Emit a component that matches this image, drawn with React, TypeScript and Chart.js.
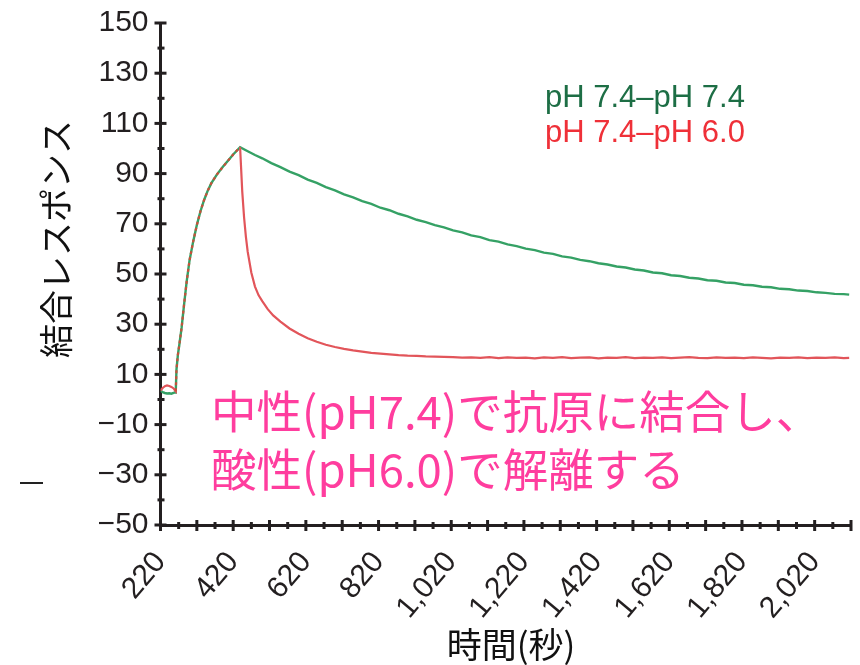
import React, { useEffect, useRef } from 'react';
import { Chart, registerables } from 'chart.js';

Chart.register(...registerables);

// [time (s), response]
const greenBaseline: number[][] = [
  [220, 3.6], [226, 2.9], [232, 2.6], [238, 2.4], [244, 2.5], [250, 2.3], [256, 2.6], [260, 2.8],
];
const redBaseline: number[][] = [
  [220, 3.6], [226, 4.6], [232, 5.3], [238, 5.6], [244, 5.4], [250, 5.0], [256, 4.4], [260, 3.6],
];
// association phase (pH 7.4) shared by both runs
const association: number[][] = [
  [262, 3.3], [264, 12], [268, 18], [272, 22], [278, 28.5], [285, 38], [292, 47], [300, 55.5],
  [310, 63], [320, 69.5], [330, 75], [340, 79.5], [350, 83.2], [360, 86.2], [375, 89.6],
  [390, 92.4], [405, 95], [420, 97.6], [439, 100.5],
];
// dissociation at pH 7.4
const greenDissociation: number[][] = [
  [460, 98.9], [480, 97.4], [500, 96.1], [525, 94.2], [550, 92.6], [575, 90.8], [600, 89.4],
  [625, 87.6], [650, 86.3], [675, 84.6], [700, 83.3], [725, 81.7], [750, 80.5], [775, 79.0],
  [800, 77.9], [825, 76.4], [850, 75.4], [875, 74.0], [900, 73.0], [925, 71.6], [950, 70.7],
  [975, 69.5], [1000, 68.6], [1025, 67.4], [1050, 66.6], [1075, 65.4], [1100, 64.7], [1125, 63.5],
  [1150, 62.9], [1175, 61.8], [1200, 61.1], [1225, 60.1], [1250, 59.5], [1275, 58.5], [1300, 58.0],
  [1325, 57.0], [1350, 56.5], [1375, 55.6], [1400, 55.1], [1425, 54.3], [1450, 53.8], [1475, 53.0],
  [1500, 52.6], [1525, 51.8], [1550, 51.4], [1575, 50.6], [1600, 50.3], [1625, 49.5], [1650, 49.2],
  [1675, 48.5], [1700, 48.2], [1725, 47.5], [1750, 47.3], [1775, 46.6], [1800, 46.4], [1825, 45.7],
  [1850, 45.5], [1875, 44.9], [1900, 44.7], [1925, 44.1], [1950, 43.9], [1975, 43.4], [2000, 43.2],
  [2025, 42.7], [2050, 42.5], [2075, 42.1], [2100, 42.0], [2115, 41.8],
];
// dissociation at pH 6.0
const redDissociation: number[][] = [
  [445, 82.7], [450, 72.5], [455, 64.8], [460, 58.8], [470, 50.5], [480, 45.0], [490, 41.5],
  [500, 39.2], [515, 36.0], [530, 33.5], [550, 31.0], [575, 28.3], [600, 26.2], [625, 24.4],
  [650, 23.0], [675, 21.8], [700, 20.9], [725, 20.2], [750, 19.6], [775, 19.1], [800, 18.6],
  [825, 18.3], [850, 18.0], [875, 17.7], [900, 17.5], [925, 17.4], [950, 17.2], [975, 17.1],
  [1000, 17.0], [1025, 16.9], [1050, 16.7], [1075, 16.8], [1100, 16.6], [1125, 16.9], [1150, 16.5],
  [1175, 16.8], [1200, 16.6], [1225, 16.7], [1250, 16.4], [1275, 16.8], [1300, 16.6], [1325, 16.9],
  [1350, 16.5], [1375, 16.7], [1400, 16.8], [1425, 16.4], [1450, 16.7], [1475, 16.6], [1500, 16.9],
  [1525, 16.5], [1550, 16.7], [1575, 16.6], [1600, 16.8], [1625, 16.5], [1650, 16.7], [1675, 16.9],
  [1700, 16.6], [1725, 16.5], [1750, 16.8], [1775, 16.6], [1800, 16.7], [1825, 16.5], [1850, 16.8],
  [1875, 16.6], [1900, 16.4], [1925, 16.7], [1950, 16.6], [1975, 16.8], [2000, 16.5], [2025, 16.7],
  [2050, 16.6], [2075, 16.8], [2100, 16.5], [2115, 16.6],
];

const xLabelValues = [220, 420, 620, 820, 1020, 1220, 1420, 1620, 1820, 2020];
const yLabelValues = [-50, -30, -10, 10, 30, 50, 70, 90, 110, 130, 150];
const seriesNames = ['pH 7.4\u2013pH 7.4', 'pH 7.4\u2013pH 6.0'];
const xTitle = '時間(秒)';
const yTitle = '結合レスポンス';
const noteLines = ['中性(pH7.4)で抗原に結合し、', '酸性(pH6.0)で解離する'];

const X_MIN = 220;
const X_MAX = 2120;
const Y_MIN = -50;
const Y_MAX = 150;
const AXIS = '#231f20';
const GREEN = '#35a165';
const RED = '#e2555a';
const SANS = '"Liberation Sans", Arial, Helvetica, sans-serif';
const CJK = '"Noto Sans CJK JP", "Noto Sans", sans-serif';

const toPts = (arr: number[][]) => arr.map(([x, y]) => ({ x, y }));

const decorPlugin = {
  id: 'decor',
  afterDraw(chart: any) {
    const { ctx, chartArea, scales } = chart;
    const xs = scales.x;
    const ys = scales.y;
    ctx.save();
    // ticks crossing the axes
    ctx.strokeStyle = AXIS;
    ctx.lineWidth = 3;
    xs.ticks.forEach((t: any) => {
      const px = xs.getPixelForValue(t.value);
      const major = (t.value - X_MIN) % 100 === 0;
      const up = major ? 5 : 3;
      const dn = major ? 6 : 4;
      ctx.beginPath();
      ctx.moveTo(px, chartArea.bottom - up);
      ctx.lineTo(px, chartArea.bottom + dn);
      ctx.stroke();
    });
    ys.ticks.forEach((t: any) => {
      const py = ys.getPixelForValue(t.value);
      const major = (t.value - Y_MIN) % 20 === 0;
      const l = major ? 6 : 3;
      const r = major ? 6 : 4;
      ctx.beginPath();
      ctx.moveTo(chartArea.left - l, py);
      ctx.lineTo(chartArea.left + r, py);
      ctx.stroke();
    });

    // y title
    ctx.fillStyle = '#111';
    ctx.font = `34px ${CJK}`;
    ctx.textAlign = 'center';
    ctx.textBaseline = 'middle';
    ctx.save();
    ctx.translate(56, 239);
    ctx.rotate(-Math.PI / 2);
    ctx.fillText(yTitle, 0, 0);
    ctx.restore();

    // x title
    ctx.font = `35px ${CJK}`;
    ctx.fillText(xTitle, 511, 645);

    // series labels
    ctx.textAlign = 'left';
    ctx.textBaseline = 'alphabetic';
    ctx.font = `31px ${SANS}`;
    ctx.fillStyle = '#1d6e45';
    ctx.fillText(seriesNames[0], 545, 107);
    ctx.fillStyle = '#ef3038';
    ctx.fillText(seriesNames[1], 545, 142);

    // note
    ctx.fillStyle = '#ff3d9e';
    ctx.font = `45.5px ${CJK}`;
    ctx.fillText(noteLines[0], 211, 429);
    ctx.fillText(noteLines[1], 211, 487);

    // small stray dash
    ctx.strokeStyle = '#222';
    ctx.lineWidth = 2;
    ctx.beginPath();
    ctx.moveTo(20, 483);
    ctx.lineTo(43, 483);
    ctx.stroke();
    ctx.restore();
  },
};

function fmtX(v: number) {
  return v.toLocaleString('en-US');
}
function fmtY(v: number) {
  return v < 0 ? '\u2212' + Math.abs(v) : String(v);
}

export default function App() {
  const ref = useRef<HTMLCanvasElement | null>(null);
  useEffect(() => {
    document.body.style.margin = '0';
    const canvas = ref.current;
    if (!canvas) return;
    const green = [...toPts(greenBaseline), ...toPts(association), ...toPts(greenDissociation)];
    const red = [...toPts(redBaseline), ...toPts(association), ...toPts(redDissociation)];
    const inRise = (c: any) => c.p1.parsed.x <= 439 && c.p0.parsed.x >= 262;
    const chart = new Chart(canvas, {
      type: 'line',
      data: {
        datasets: [
          {
            label: seriesNames[0],
            data: green,
            borderColor: GREEN,
            borderWidth: 2.4,
            pointRadius: 0,
            tension: 0,
            fill: false,
            order: 2,
          },
          {
            label: seriesNames[1],
            data: red,
            borderColor: RED,
            borderWidth: 2.2,
            pointRadius: 0,
            tension: 0,
            fill: false,
            order: 1,
            segment: {
              borderColor: (c: any) => (inRise(c) ? '#c8503a' : undefined),
              borderDash: (c: any) => (inRise(c) ? [3, 3] : undefined),
            },
          },
        ],
      },
      options: {
        animation: false,
        responsive: false,
        events: [],
        layout: { padding: { top: 23, right: 9, left: 0, bottom: 0 } },
        plugins: {
          legend: { display: false },
          tooltip: { enabled: false },
          title: { display: false },
        },
        scales: {
          x: {
            type: 'linear',
            min: X_MIN,
            max: X_MAX,
            afterBuildTicks: (s: any) => {
              const t = [];
              for (let v = X_MIN; v <= X_MAX; v += 50) t.push({ value: v });
              s.ticks = t;
            },
            afterFit: (s: any) => {
              s.height = 140;
              s.paddingLeft = 0;
              s.paddingRight = 0;
            },
            grid: { display: false, drawTicks: false },
            border: { display: true, color: AXIS, width: 3 },
            ticks: {
              autoSkip: false,
              minRotation: 50,
              maxRotation: 50,
              padding: 20,
              color: AXIS,
              font: { family: SANS, size: 30 },
              callback: (v: any) => (xLabelValues.includes(Number(v)) ? fmtX(Number(v)) : ''),
            },
          },
          y: {
            type: 'linear',
            min: Y_MIN,
            max: Y_MAX,
            afterBuildTicks: (s: any) => {
              const t = [];
              for (let v = Y_MIN; v <= Y_MAX; v += 10) t.push({ value: v });
              s.ticks = t;
            },
            afterFit: (s: any) => {
              s.width = 160.5;
              s.paddingTop = 0;
              s.paddingBottom = 0;
            },
            grid: { display: false, drawTicks: false },
            border: { display: true, color: AXIS, width: 3 },
            ticks: {
              autoSkip: false,
              padding: 12,
              color: AXIS,
              font: { family: SANS, size: 30 },
              callback: (v: any) => (yLabelValues.includes(Number(v)) ? fmtY(Number(v)) : ''),
            },
          },
        },
      },
      plugins: [decorPlugin],
    });
    return () => chart.destroy();
  }, []);
  return (
    <div style={{ width: 860, height: 665 }}>
      <canvas ref={ref} width={860} height={665} />
    </div>
  );
}
